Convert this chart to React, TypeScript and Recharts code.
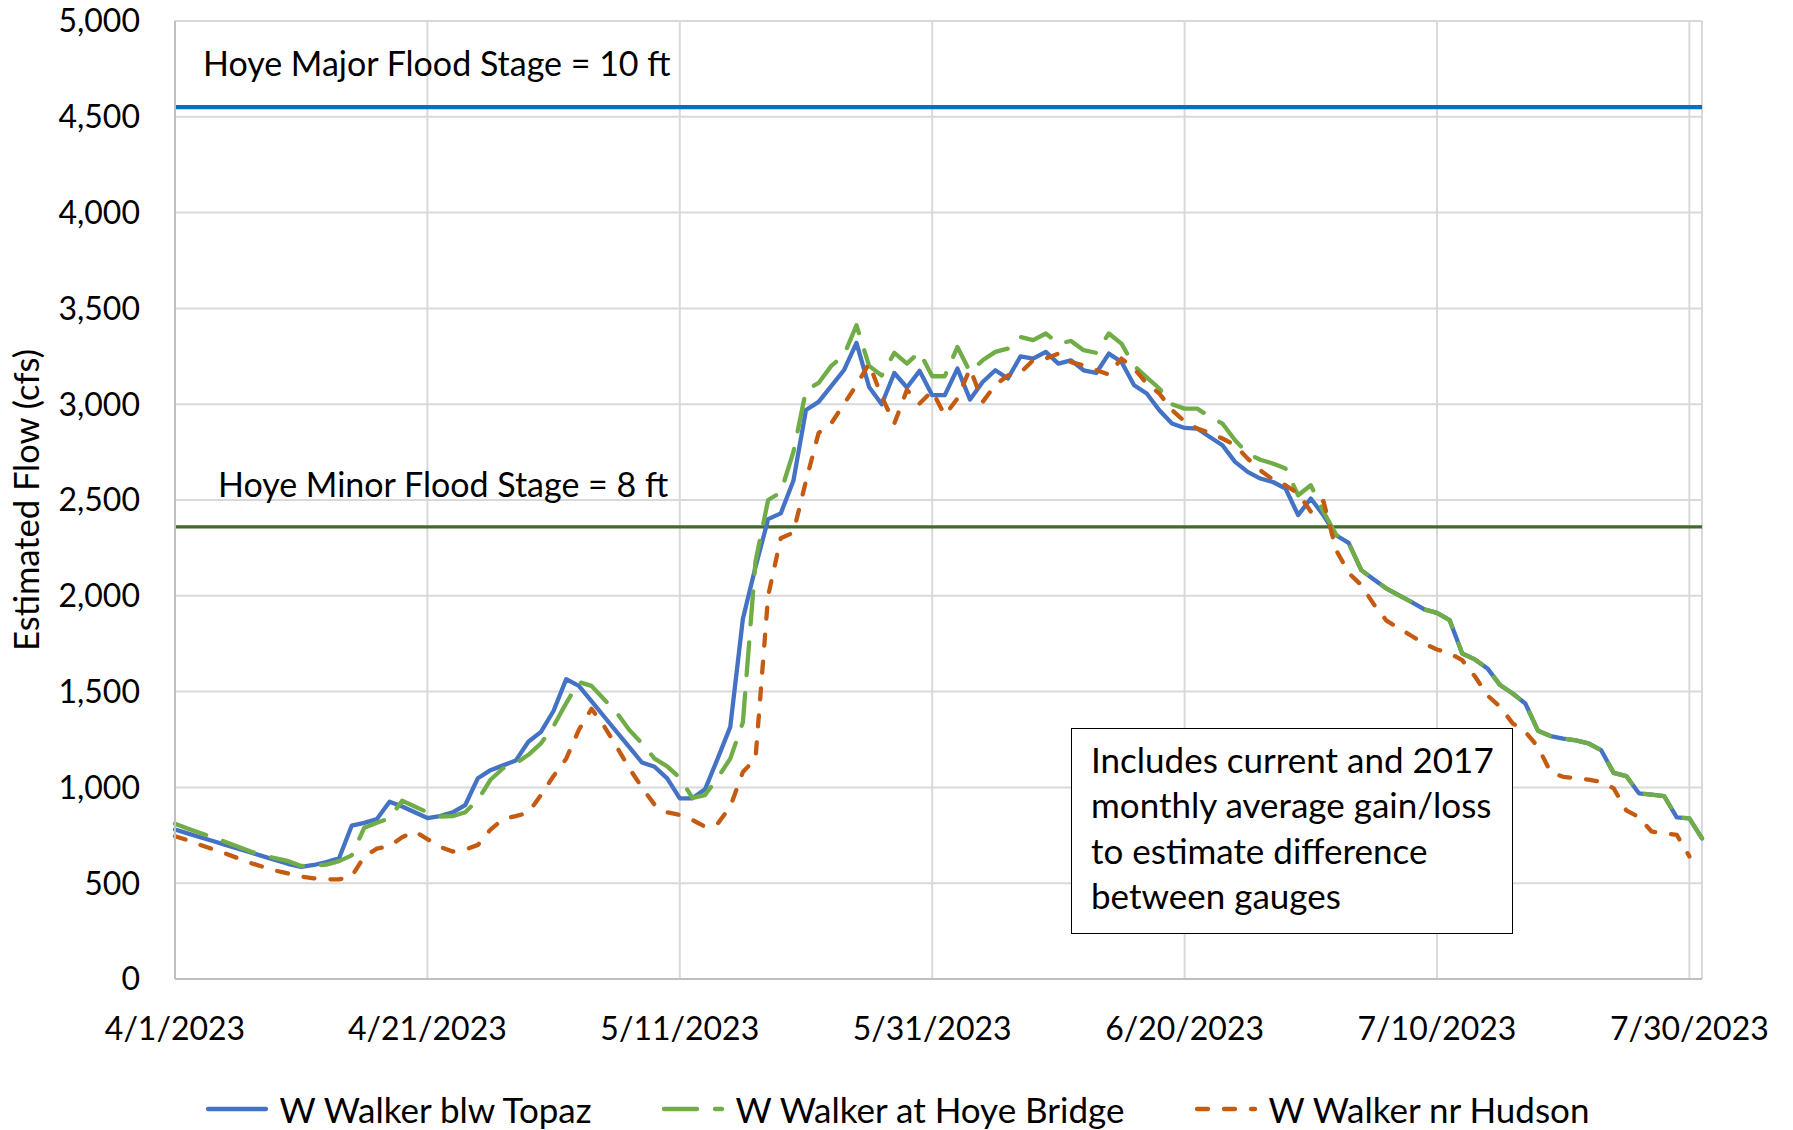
import { LineChart, Line, XAxis, YAxis, CartesianGrid, ReferenceLine, Legend } from "recharts";

const FONT = "Lato, 'Open Sans', sans-serif";
const W = 1793;
const H = 1130;

// daily values starting 4/1/2023 (day 0)
const topaz = [
  780, 760, 740, 720, 700, 680, 660, 640, 620, 600,
  585, 595, 610, 630, 800, 815, 835, 925, 900, 870,
  840, 850, 870, 908, 1048, 1090, 1115, 1140, 1238, 1290,
  1400, 1565, 1530, 1450, 1370, 1290, 1210, 1130, 1108, 1047,
  943, 943, 990, 1150, 1316, 1880, 2150, 2400, 2430, 2600,
  2970, 3012, 3094, 3177, 3320, 3090, 3000, 3163, 3087, 3174,
  3047, 3047, 3186, 3024, 3116, 3177, 3134, 3250, 3238, 3273,
  3212, 3229, 3177, 3163, 3264, 3220, 3099, 3056, 2968, 2899,
  2876, 2873, 2829, 2786, 2699, 2647, 2612, 2594, 2560, 2421,
  2508, 2421, 2316, 2276, 2134, 2085, 2038, 2002, 1967, 1929,
  1911, 1873, 1699, 1668, 1621, 1534, 1490, 1438, 1296, 1268,
  1255, 1245, 1230, 1195, 1076, 1059, 969, 962, 955, 844,
  838, 734,
];

const hoye = [
  810, 785, 762, 740, 715, 690, 665, 645, 630, 615,
  590, 592, 597, 615, 645, 790, 815, 840, 930, 900,
  870, 848, 850, 870, 935, 1040, 1100, 1125, 1170, 1230,
  1320, 1440, 1550, 1530, 1460, 1390, 1300, 1230, 1150, 1110,
  1050, 945, 960, 1050, 1150, 1340, 2180, 2500, 2540, 2750,
  3073, 3111, 3200, 3255, 3412, 3200, 3150, 3268, 3212, 3273,
  3146, 3146, 3299, 3168, 3229, 3273, 3290, 3351, 3334, 3369,
  3316, 3330, 3282, 3268, 3369, 3316, 3200, 3140, 3082, 3000,
  2977, 2977, 2934, 2899, 2812, 2742, 2710, 2690, 2664, 2525,
  2577, 2440, 2320, 2276, 2134, 2085, 2038, 2002, 1967, 1929,
  1911, 1873, 1699, 1668, 1621, 1534, 1490, 1438, 1296, 1268,
  1255, 1245, 1230, 1195, 1076, 1059, 969, 962, 955, 844,
  838, 734,
];

const hudson = [
  745, 725, 700, 678, 655, 630, 605, 585, 565, 550,
  535, 525, 520, 520, 535, 640, 680, 694, 740, 770,
  730, 690, 665, 675, 700, 780, 835, 850, 868, 960,
  1060, 1150, 1300, 1410, 1320, 1212, 1100, 1000, 910, 870,
  856, 830, 795, 810, 900, 1080, 1150, 2000, 2300, 2330,
  2600, 2850, 2900, 3000, 3100, 3212, 3040, 2899, 3075, 3003,
  3069, 2942, 3030, 3186, 3012, 3100, 3150, 3165, 3229, 3238,
  3264, 3220, 3203, 3177, 3155, 3238, 3186, 3107, 3056, 2970,
  2910, 2873, 2850, 2821, 2786, 2716, 2655, 2607, 2577, 2534,
  2440, 2495, 2240, 2120, 2056, 1955, 1870, 1830, 1790, 1750,
  1720, 1700, 1664, 1580, 1480, 1421, 1334, 1290, 1212, 1080,
  1055, 1048, 1040, 1030, 995, 880, 845, 770, 760, 752,
  640,
];

const tickDays = [0, 20, 40, 60, 80, 100, 120];
const tickLabels = ["4/1/2023", "4/21/2023", "5/11/2023", "5/31/2023", "6/20/2023", "7/10/2023", "7/30/2023"];
const yTicks = [0, 500, 1000, 1500, 2000, 2500, 3000, 3500, 4000, 4500, 5000];

const MAJOR_FLOOD = 4550;
const MINOR_FLOOD = 2360;

const series = [
  { key: "topaz", name: "W Walker blw Topaz", color: "#4472C4", dash: undefined },
  { key: "hoye", name: "W Walker at Hoye Bridge", color: "#70AD47", dash: "33 18" },
  { key: "hudson", name: "W Walker nr Hudson", color: "#C55A11", dash: "11 16" },
];

const noteLines = [
  "Includes current and 2017",
  "monthly average gain/loss",
  "to estimate difference",
  "between gauges",
];

function FloodLabel(props: any) {
  const { viewBox, text, dx, dy } = props;
  if (!viewBox) return null;
  return (
    <text x={viewBox.x + dx} y={viewBox.y - dy} fill="#000" fontSize={34} fontFamily={FONT}>
      {text}
    </text>
  );
}

function YTitle(props: any) {
  const { viewBox } = props;
  if (!viewBox) return null;
  const cx = viewBox.x + 25;
  const cy = viewBox.y + viewBox.height / 2;
  return (
    <text
      x={cx}
      y={cy}
      transform={`rotate(-90 ${cx} ${cy})`}
      textAnchor="middle"
      dominantBaseline="central"
      fill="#000"
      fontSize={34.5}
      fontFamily={FONT}
    >
      Estimated Flow (cfs)
    </text>
  );
}

function LegendRow() {
  return (
    <div style={{ display: "flex", justifyContent: "center", alignItems: "center", gap: 68, fontFamily: FONT }}>
      {series.map((s) => (
        <div key={s.key} style={{ display: "flex", alignItems: "center" }}>
          <svg width={66} height={12} style={{ marginRight: 10 }}>
            <line
              x1={4}
              y1={6}
              x2={62}
              y2={6}
              stroke={s.color}
              strokeWidth={4.3}
              strokeLinecap="round"
              strokeDasharray={s.dash}
            />
          </svg>
          <span style={{ fontSize: 35, color: "#000", lineHeight: "40px" }}>{s.name}</span>
        </div>
      ))}
    </div>
  );
}

export default function App() {
  const data = topaz.map((v, i) => ({
    day: i,
    topaz: v,
    hoye: hoye[i],
    hudson: i < hudson.length ? hudson[i] : null,
  }));

  return (
    <div style={{ position: "absolute", left: 0, top: 0, width: W, height: H, background: "#fff", fontFamily: FONT }}>
      <LineChart width={W} height={H} data={data} margin={{ top: 21, right: 91, left: 0, bottom: 91 }}>
        <CartesianGrid stroke="#D9D9D9" strokeWidth={2} />
        <XAxis
          dataKey="day"
          type="number"
          domain={[0, 121]}
          ticks={tickDays}
          interval={0}
          tickFormatter={(d: number) => tickLabels[tickDays.indexOf(d)]}
          height={60}
          tickSize={0}
          tickMargin={38}
          axisLine={{ stroke: "#BFBFBF", strokeWidth: 2 }}
          tick={{ fill: "#000", fontSize: 32 }}
        />
        <YAxis
          type="number"
          domain={[0, 5000]}
          ticks={yTicks}
          interval={0}
          width={175}
          tickSize={0}
          tickMargin={35}
          tickFormatter={(v: number) => v.toLocaleString("en-US")}
          axisLine={{ stroke: "#BFBFBF", strokeWidth: 2 }}
          tick={{ fill: "#000", fontSize: 32 }}
          label={<YTitle />}
        />
        <ReferenceLine
          y={MAJOR_FLOOD}
          stroke="#0070C0"
          strokeWidth={4.3}
          label={<FloodLabel text="Hoye Major Flood Stage = 10 ft" dx={28} dy={31} />}
        />
        <ReferenceLine
          y={MINOR_FLOOD}
          stroke="#416A2B"
          strokeWidth={3.3}
          label={<FloodLabel text="Hoye Minor Flood Stage = 8 ft" dx={43} dy={30} />}
        />
        {series.map((s) => (
          <Line
            key={s.key}
            type="linear"
            dataKey={s.key}
            name={s.name}
            stroke={s.color}
            strokeWidth={4.3}
            strokeDasharray={s.dash}
            strokeLinecap="round"
            strokeLinejoin="round"
            dot={false}
            activeDot={false}
            connectNulls={false}
            isAnimationActive={false}
          />
        ))}
        <Legend
          layout="horizontal"
          verticalAlign="middle"
          align="center"
          wrapperStyle={{ top: 1089, left: 0, width: W }}
          content={() => <LegendRow />}
        />
      </LineChart>
      <div
        style={{
          position: "absolute",
          left: 1071,
          top: 728,
          width: 442,
          height: 206,
          boxSizing: "border-box",
          border: "1.5px solid #000",
          background: "#fff",
          padding: "8px 0 0 19px",
          fontSize: 35,
          lineHeight: "45.3px",
          color: "#000",
          whiteSpace: "nowrap",
        }}
      >
        {noteLines.map((l) => (
          <div key={l}>{l}</div>
        ))}
      </div>
    </div>
  );
}
